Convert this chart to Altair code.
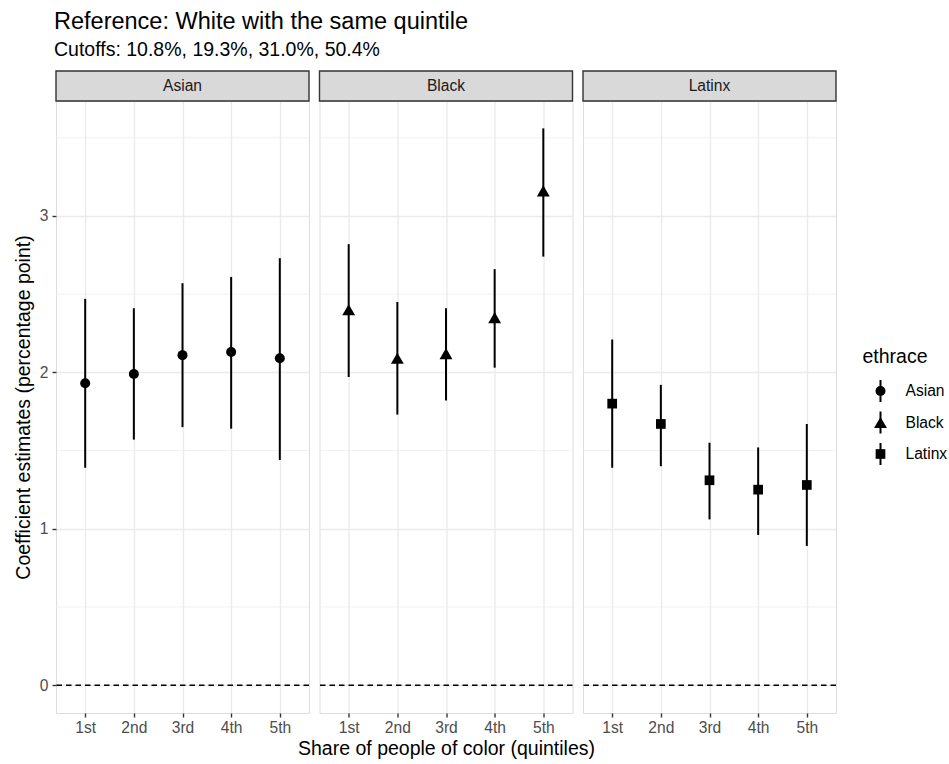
import altair as alt
import pandas as pd

# ---- data -------------------------------------------------------------
quintiles = ["1st", "2nd", "3rd", "4th", "5th"]
groups = ["Asian", "Black", "Latinx"]

asian_est = [1.93, 1.99, 2.11, 2.13, 2.09]
asian_lo = [1.39, 1.57, 1.65, 1.64, 1.44]
asian_hi = [2.47, 2.41, 2.57, 2.61, 2.73]

black_est = [2.40, 2.09, 2.12, 2.35, 3.16]
black_lo = [1.97, 1.73, 1.82, 2.03, 2.74]
black_hi = [2.82, 2.45, 2.41, 2.66, 3.56]

latinx_est = [1.80, 1.67, 1.31, 1.25, 1.28]
latinx_lo = [1.39, 1.40, 1.06, 0.96, 0.89]
latinx_hi = [2.21, 1.92, 1.55, 1.52, 1.67]

y_breaks = [0, 1, 2, 3]
y_minor = [0.5, 1.5, 2.5, 3.5]
reference_line = [0]

title_text = "Reference: White with the same quintile"
subtitle_text = "Cutoffs: 10.8%, 19.3%, 31.0%, 50.4%"
x_title = "Share of people of color (quintiles)"
y_title = "Coefficient estimates (percentage point)"
legend_title = "ethrace"

# ---- long table ---------------------------------------------------------
rows = []
for g, est, lo, hi in zip(groups,
                          [asian_est, black_est, latinx_est],
                          [asian_lo, black_lo, latinx_lo],
                          [asian_hi, black_hi, latinx_hi]):
    for q, e, l, h in zip(quintiles, est, lo, hi):
        rows.append({"ethrace": g, "quintile": q, "estimate": e, "lower": l, "upper": h})
df = pd.DataFrame(rows)

# ---- styling ------------------------------------------------------------
FONT = "Liberation Sans"
PANEL_W, PANEL_H, STRIP_H = 253, 612, 30
GRID = "#EBEBEB"
BORDER = "#333333"
TICK_FS, TITLE_FS, MAIN_FS = 15.6, 19.5, 23.5

# marker area per group (filled circle / triangle / square)
marker_size = {"Asian": 100, "Black": 165, "Latinx": 94}

x_scale = alt.Scale(type="point", domain=quintiles, padding=0.6)
y_scale = alt.Scale(domain=[-0.178, 3.735], nice=False, zero=False)
shape_scale = alt.Scale(domain=groups, range=["circle", "triangle-up", "square"])


def y_axis(first):
    if first:
        return alt.Axis(values=y_breaks, format="d", title=y_title,
                        titleFont=FONT, titleFontSize=TITLE_FS, titleFontWeight="normal",
                        titleColor="black", titlePadding=6,
                        labelFont=FONT, labelFontSize=TICK_FS, labelColor="#4D4D4D",
                        labelPadding=4, tickColor=BORDER, tickSize=4, tickWidth=1.4,
                        domain=False, gridColor=GRID, gridWidth=1.4)
    return alt.Axis(values=y_breaks, labels=False, ticks=False, title=None,
                    domain=False, gridColor=GRID, gridWidth=1.4)


def x_axis(middle):
    return alt.Axis(labelAngle=0, labelFont=FONT, labelFontSize=TICK_FS,
                    labelColor="#4D4D4D", labelPadding=3,
                    tickColor=BORDER, tickSize=4, tickWidth=1.4,
                    domain=False, grid=True, gridColor=GRID, gridWidth=1.4,
                    title=x_title if middle else None,
                    titleFont=FONT, titleFontSize=TITLE_FS, titleFontWeight="normal",
                    titleColor="black", titlePadding=4)


def panel(idx, name):
    sub = df[df["ethrace"] == name]
    ya = y_axis(idx == 0)
    xa = x_axis(idx == 1)
    strip_df = pd.DataFrame({"panel": [name]})

    strip_box = alt.Chart(strip_df).mark_rect(
        fill="#D9D9D9", stroke=BORDER, strokeWidth=1.4
    ).encode(x=alt.value(0), x2=alt.value(PANEL_W),
             y=alt.value(-STRIP_H), y2=alt.value(0))
    strip_label = alt.Chart(strip_df).mark_text(
        font=FONT, fontSize=TICK_FS, color="#1A1A1A"
    ).encode(text="panel:N", x=alt.value(PANEL_W / 2), y=alt.value(-STRIP_H / 2))

    minor = alt.Chart(pd.DataFrame({"v": y_minor})).mark_rule(
        color=GRID, strokeWidth=0.7
    ).encode(y=alt.Y("v:Q", scale=y_scale, axis=ya))

    zero = alt.Chart(pd.DataFrame({"v": reference_line})).mark_rule(
        color="black", strokeWidth=1.5, strokeDash=[5.5, 4]
    ).encode(y=alt.Y("v:Q", scale=y_scale, axis=ya))

    base = alt.Chart(sub).encode(
        x=alt.X("quintile:N", scale=x_scale, axis=xa, sort=quintiles)
    )
    bars = base.mark_rule(color="black", strokeWidth=2).encode(
        y=alt.Y("lower:Q", scale=y_scale, axis=ya),
        y2="upper:Q",
    )
    points = base.mark_point(
        filled=True, opacity=1, color="black", size=marker_size[name]
    ).encode(
        y=alt.Y("estimate:Q", scale=y_scale, axis=ya),
        shape=alt.Shape("ethrace:N", scale=shape_scale, legend=None),
    )
    return alt.layer(strip_box, strip_label, minor, zero, bars, points).properties(
        width=PANEL_W, height=PANEL_H
    )


# ---- hand-built legend -------------------------------------------------
leg_df = pd.DataFrame({"ethrace": groups})
leg_y = alt.Y("ethrace:N", scale=alt.Scale(type="point", domain=groups,
                                           range=[290, 353], padding=0), axis=None)
leg_line = alt.Chart(leg_df).mark_point(
    shape="M0,-1V1", filled=False, strokeWidth=2, size=484, color="black", opacity=1
).encode(x=alt.value(34), y=leg_y)
leg_syms = [
    alt.Chart(leg_df[leg_df["ethrace"] == g]).mark_point(
        filled=True, opacity=1, color="black", size=marker_size[g]
    ).encode(
        x=alt.value(34), y=leg_y,
        shape=alt.Shape("ethrace:N", scale=shape_scale, legend=None),
    )
    for g in groups
]
leg_text = alt.Chart(leg_df).mark_text(
    align="left", font=FONT, fontSize=TICK_FS, color="black"
).encode(x=alt.value(59), y=leg_y, text="ethrace:N")
leg_title = alt.Chart(pd.DataFrame({"t": [legend_title]})).mark_text(
    align="left", font=FONT, fontSize=TITLE_FS, color="black"
).encode(x=alt.value(16), y=alt.value(256), text="t:N")
legend = alt.layer(leg_line, *leg_syms, leg_text, leg_title).properties(
    width=95, height=PANEL_H, view=alt.ViewBackground(stroke=None)
)

chart = alt.hconcat(
    *[panel(i, g) for i, g in enumerate(groups)], legend, spacing=10.5, bounds="flush"
).properties(
    title=alt.TitleParams(
        text=title_text, subtitle=subtitle_text, anchor="start", frame="group",
        font=FONT, fontSize=MAIN_FS, fontWeight="normal", color="black",
        subtitleFont=FONT, subtitleFontSize=TITLE_FS, subtitleColor="black",
        subtitlePadding=8, offset=10, dx=-2,
    ),
    padding={"left": 12, "top": 9, "right": 0, "bottom": 0},
).configure_view(
    stroke=BORDER, strokeWidth=1.4
).configure(background="white")

chart.save("out.html", embed_options={"renderer": "svg", "actions": False})
